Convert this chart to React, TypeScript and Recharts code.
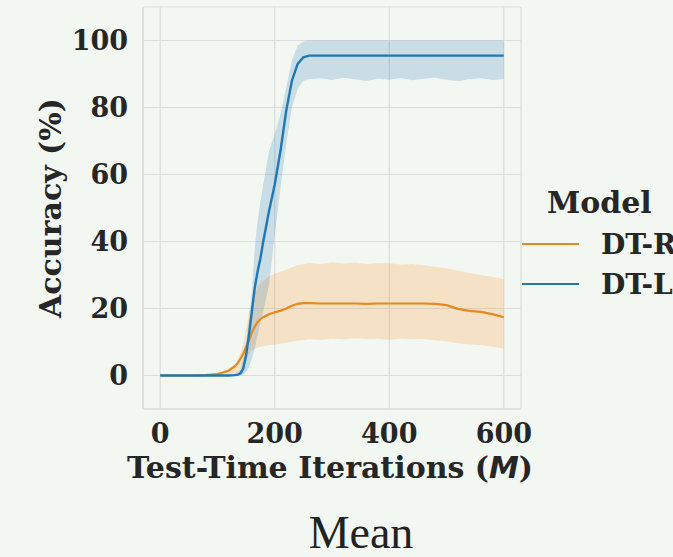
import { Area, CartesianGrid, ComposedChart, Label, Line, XAxis, YAxis } from "recharts";

const iterations = [
  0, 20, 40, 60, 80, 100, 110, 120, 130, 135, 140, 145, 150, 155, 160, 165, 170, 175, 180, 190,
  200, 210, 220, 230, 240, 250, 260, 280, 300, 320, 340, 360, 380, 400, 420, 440, 460, 480, 500,
  520, 540, 560, 580, 600,
];

// DT-R (orange): mean and shaded band
const dtrMean = [
  0, 0, 0, 0, 0.1, 0.4, 0.9, 1.5, 2.7, 3.6, 5, 6.5, 8.5, 10.5, 12.8, 14.6, 15.9, 16.8, 17.4, 18.3,
  18.9, 19.3, 20, 20.8, 21.4, 21.6, 21.6, 21.5, 21.5, 21.5, 21.5, 21.4, 21.5, 21.5, 21.5, 21.5,
  21.5, 21.4, 21, 19.9, 19.3, 19, 18.3, 17.4,
];
const dtrLow = [
  0, 0, 0, 0, 0, 0, 0, 0.1, 0.3, 0.6, 1, 2, 4.5, 6.5, 7.5, 8, 8.3, 8.6, 8.8, 9, 9.2, 9.5, 9.8,
  10.1, 10.4, 10.5, 10.8, 10.6, 11, 10.8, 11.1, 10.9, 11, 10.7, 11, 10.8, 10.9, 10.5, 10.2, 9.6,
  9.3, 9, 8.6, 8,
];
const dtrHigh = [
  0, 0, 0, 0.1, 0.4, 0.9, 1.4, 2.2, 3.6, 4.6, 6.5, 9.5, 14, 18.5, 22, 24.5, 26.5, 27.5, 28.3,
  29.6, 30.4, 31, 31.6, 32.3, 32.9, 33.3, 33.6, 33.2, 33.8, 33.4, 33.7, 33.3, 33.6, 33.5, 33.1,
  33.3, 32.9, 32.5, 32, 31.3, 30.6, 30, 29.5, 28.8,
];

// DT-L (blue)
const dtlMean = [
  0, 0, 0, 0, 0, 0, 0, 0, 0.1, 0.2, 0.6, 2, 6, 12, 19, 26, 31, 35, 40, 49, 57, 67, 79, 88, 93, 95,
  95.5, 95.5, 95.5, 95.5, 95.5, 95.5, 95.5, 95.5, 95.5, 95.5, 95.5, 95.5, 95.5, 95.5, 95.5, 95.5,
  95.5, 95.5,
];
const dtlLow = [
  0, 0, 0, 0, 0, 0, 0, 0, 0, 0, 0.2, 0.4, 1, 2.5, 5, 8, 12, 16, 19, 27, 42, 56, 69, 80, 85.5, 88,
  88.4, 88.7, 88.2, 88.9, 88.4, 87.9, 88.6, 88.3, 88.8, 88.1, 88.6, 88.9, 88.3, 87.8, 88.5, 88.7,
  88.2, 88.5,
];
const dtlHigh = [
  0, 0, 0, 0, 0, 0.1, 0.1, 0.2, 0.5, 1, 1.8, 5, 10, 17, 25, 38, 46, 52, 57, 67, 72, 78, 86, 94,
  98.5, 99.6, 100, 100, 100, 100, 100, 100, 100, 100, 100, 100, 100, 100, 100, 100, 100, 100, 100,
  100,
];

const xTicks = [0, 200, 400, 600];
const yTicks = [0, 20, 40, 60, 80, 100];

const data = iterations.map((it, i) => ({
  it,
  dtr: dtrMean[i],
  dtrBand: [dtrLow[i], dtrHigh[i]],
  dtl: dtlMean[i],
  dtlBand: [dtlLow[i], dtlHigh[i]],
}));

const ORANGE = "#e6891e";
const BLUE = "#1f77b4";
const GRID = "#dcdcdc";
const TEXT = "#262626";
const SERIF = "'DejaVu Serif', serif";

const tickStyle = { fontFamily: SERIF, fontWeight: 700, fontSize: 27, fill: TEXT };

function XLabel(props: any) {
  const vb = props.viewBox;
  const cx = vb.x + vb.width / 2 - 2;
  return (
    <text x={cx} y={478} textAnchor="middle" fontFamily={SERIF} fontWeight={700} fontSize={30} fill={TEXT}>
      Test-Time Iterations (
      <tspan fontFamily="'DejaVu Sans', sans-serif" fontStyle="italic">M</tspan>)
    </text>
  );
}

function YLabel() {
  return (
    <text
      x={50}
      y={208}
      transform="rotate(-90 50 208)"
      textAnchor="middle"
      dominantBaseline="central"
      fontFamily={SERIF}
      fontWeight={700}
      fontSize={30}
      fill={TEXT}
    >
      Accuracy (%)
    </text>
  );
}

const legendText = {
  position: "absolute" as const,
  fontFamily: SERIF,
  fontWeight: 700,
  fontSize: 28,
  color: TEXT,
  lineHeight: "30px",
  height: 30,
  whiteSpace: "nowrap" as const,
};

export default function App() {
  return (
    <div
      style={{
        position: "absolute",
        left: 0,
        top: 0,
        width: 673,
        height: 557,
        background: "#f3f7f2",
        overflow: "hidden",
      }}
    >
      <ComposedChart
        width={673}
        height={557}
        data={data}
        margin={{ top: 7, right: 152, bottom: 0, left: 0 }}
      >
        <CartesianGrid stroke={GRID} strokeWidth={1.2} />
        <XAxis
          dataKey="it"
          type="number"
          domain={[-30, 630]}
          ticks={xTicks}
          height={148}
          tickSize={0}
          tickMargin={15}
          tick={tickStyle}
          axisLine={{ stroke: GRID, strokeWidth: 1.2 }}
        >
          <Label content={XLabel} />
        </XAxis>
        <YAxis
          type="number"
          domain={[-10, 110]}
          ticks={yTicks}
          width={143}
          tickSize={0}
          tickMargin={15}
          tick={tickStyle}
          axisLine={{ stroke: GRID, strokeWidth: 1.2 }}
        >
          <Label content={YLabel} />
        </YAxis>

        <Area
          type="linear"
          dataKey="dtrBand"
          stroke="none"
          fill="#ff8c1a"
          fillOpacity={0.2}
          isAnimationActive={false}
        />
        <Area
          type="linear"
          dataKey="dtlBand"
          stroke="none"
          fill={BLUE}
          fillOpacity={0.2}
          isAnimationActive={false}
        />
        <Line type="linear" dataKey="dtr" stroke={ORANGE} strokeWidth={2.2} dot={false} isAnimationActive={false} />
        <Line type="linear" dataKey="dtl" stroke={BLUE} strokeWidth={2.4} dot={false} isAnimationActive={false} />
      </ComposedChart>

      {/* legend */}
      <div style={{ ...legendText, left: 547, top: 188, fontSize: 30 }}>Model</div>
      <div style={{ position: "absolute", left: 522, top: 243, width: 57, height: 2.4, background: ORANGE }} />
      <div style={{ ...legendText, left: 601, top: 230 }}>DT-R</div>
      <div style={{ position: "absolute", left: 522, top: 283, width: 57, height: 2.4, background: BLUE }} />
      <div style={{ ...legendText, left: 601, top: 270 }}>DT-L</div>

      <div
        style={{
          position: "absolute",
          left: 261,
          width: 200,
          top: 508,
          textAlign: "center",
          fontFamily: "'Liberation Serif', serif",
          fontSize: 46,
          lineHeight: "50px",
          color: "#222",
        }}
      >
        Mean
      </div>
    </div>
  );
}
